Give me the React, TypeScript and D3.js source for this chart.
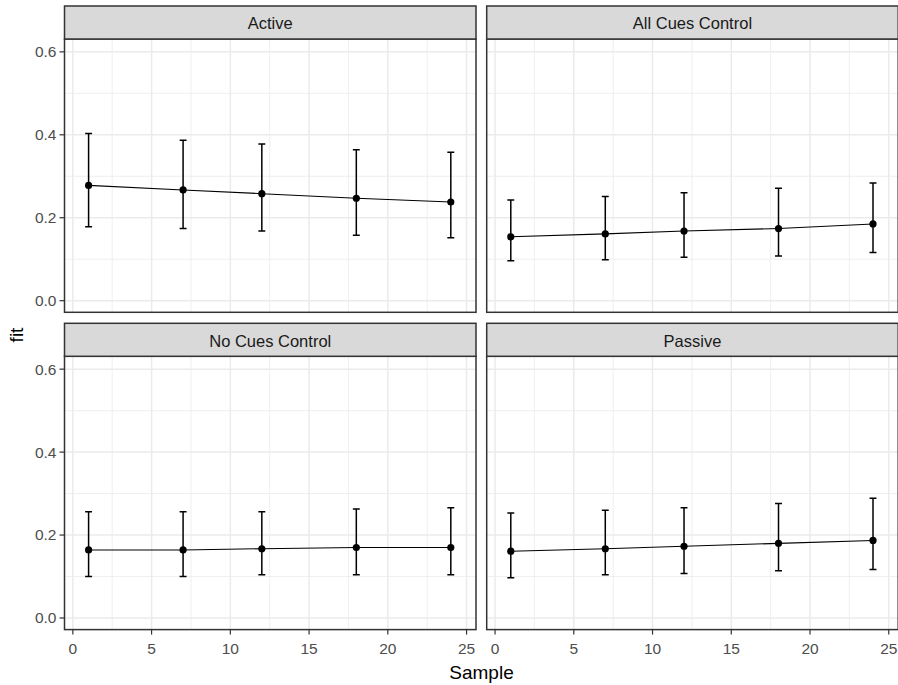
import React from 'react';
import * as d3 from 'd3';

// sample times and facet names
const samples = [1, 7, 12, 18, 24];
const conditions = ['Active', 'All Cues Control', 'No Cues Control', 'Passive'];

// fitted values with lower / upper confidence limits
const fitActive = [0.278, 0.267, 0.258, 0.247, 0.238];
const lowActive = [0.178, 0.174, 0.168, 0.158, 0.152];
const highActive = [0.403, 0.387, 0.378, 0.364, 0.358];

const fitAllCues = [0.154, 0.161, 0.168, 0.174, 0.185];
const lowAllCues = [0.096, 0.099, 0.105, 0.108, 0.116];
const highAllCues = [0.243, 0.251, 0.260, 0.271, 0.284];

const fitNoCues = [0.164, 0.164, 0.167, 0.170, 0.170];
const lowNoCues = [0.100, 0.100, 0.104, 0.104, 0.104];
const highNoCues = [0.256, 0.256, 0.256, 0.263, 0.266];

const fitPassive = [0.161, 0.167, 0.173, 0.180, 0.187];
const lowPassive = [0.097, 0.104, 0.107, 0.114, 0.117];
const highPassive = [0.253, 0.260, 0.266, 0.276, 0.289];

const xTicks = [0, 5, 10, 15, 20, 25];
const xMinor = [2.5, 7.5, 12.5, 17.5, 22.5];
const yTicks = [0, 0.2, 0.4, 0.6];
const yMinor = [0.1, 0.3, 0.5];

const series = [
  { fit: fitActive, low: lowActive, high: highActive },
  { fit: fitAllCues, low: lowAllCues, high: highAllCues },
  { fit: fitNoCues, low: lowNoCues, high: highNoCues },
  { fit: fitPassive, low: lowPassive, high: highPassive },
];

const W = 898;
const H = 685;
const panelLefts = [64.5, 486.7];
const panelW = 411.5;
const stripTops = [6, 323.3];
const stripH = 33;
const panelH = 273.3;
const tickFont = 15.5;
const stripFont = 16.5;
const capHalf = 0.22;

const font = 'Liberation Sans, Arial, sans-serif';

function Panel({ idx }: { idx: number }) {
  const col = idx % 2;
  const row = Math.floor(idx / 2);
  const left = panelLefts[col];
  const stripTop = stripTops[row];
  const top = stripTop + stripH;
  const bottom = top + panelH;
  const x = d3.scaleLinear().domain([-0.53, 25.6]).range([left, left + panelW]);
  const y = d3.scaleLinear().domain([-0.028, 0.631]).range([bottom, top]);
  const s = series[idx];
  const pts = samples.map((v, i) => ({ x: v, y: s.fit[i], lo: s.low[i], hi: s.high[i] }));
  const line = d3.line<{ x: number; y: number }>().x(d => x(d.x)).y(d => y(d.y));
  const showY = col === 0;
  const showX = row === 1;

  return (
    <g>
      <clipPath id={`clip${idx}`}>
        <rect x={left} y={top} width={panelW} height={panelH} />
      </clipPath>
      <rect x={left} y={top} width={panelW} height={panelH} fill="#fff" />
      <g clipPath={`url(#clip${idx})`}>
        {yMinor.map(t => (
          <line key={'ym' + t} x1={left} x2={left + panelW} y1={y(t)} y2={y(t)} stroke="#ebebeb" strokeWidth={0.8} />
        ))}
        {xMinor.map(t => (
          <line key={'xm' + t} x1={x(t)} x2={x(t)} y1={top} y2={bottom} stroke="#ebebeb" strokeWidth={0.8} />
        ))}
        {yTicks.map(t => (
          <line key={'y' + t} x1={left} x2={left + panelW} y1={y(t)} y2={y(t)} stroke="#ebebeb" strokeWidth={1.5} />
        ))}
        {xTicks.map(t => (
          <line key={'x' + t} x1={x(t)} x2={x(t)} y1={top} y2={bottom} stroke="#ebebeb" strokeWidth={1.5} />
        ))}
        <path d={line(pts) || ''} fill="none" stroke="#000" strokeWidth={1.1} />
        {pts.map(p => (
          <g key={'e' + p.x} stroke="#000" strokeWidth={1.5}>
            <line x1={x(p.x)} x2={x(p.x)} y1={y(p.lo)} y2={y(p.hi)} />
            <line x1={x(p.x - capHalf)} x2={x(p.x + capHalf)} y1={y(p.lo)} y2={y(p.lo)} />
            <line x1={x(p.x - capHalf)} x2={x(p.x + capHalf)} y1={y(p.hi)} y2={y(p.hi)} />
          </g>
        ))}
        {pts.map(p => (
          <circle key={'p' + p.x} cx={x(p.x)} cy={y(p.y)} r={3.6} fill="#000" />
        ))}
      </g>
      <rect x={left} y={top} width={panelW} height={panelH} fill="none" stroke="#333" strokeWidth={1.5} />
      <rect x={left} y={stripTop} width={panelW} height={stripH} fill="#d9d9d9" stroke="#333" strokeWidth={1.5} />
      <text x={left + panelW / 2} y={stripTop + stripH / 2 + 1} dy="0.35em" textAnchor="middle" fontSize={stripFont} fill="#1a1a1a" fontFamily={font}>
        {conditions[idx]}
      </text>
      {showY && yTicks.map(t => (
        <g key={'yt' + t}>
          <line x1={left - 5} x2={left} y1={y(t)} y2={y(t)} stroke="#333" strokeWidth={1.2} />
          <text x={left - 8} y={y(t)} dy="0.35em" textAnchor="end" fontSize={tickFont} fill="#4d4d4d" fontFamily={font}>
            {d3.format('.1f')(t)}
          </text>
        </g>
      ))}
      {showX && xTicks.map(t => (
        <g key={'xt' + t}>
          <line x1={x(t)} x2={x(t)} y1={bottom} y2={bottom + 5} stroke="#333" strokeWidth={1.2} />
          <text x={x(t)} y={bottom + 24} textAnchor="middle" fontSize={tickFont} fill="#4d4d4d" fontFamily={font}>
            {t}
          </text>
        </g>
      ))}
    </g>
  );
}

export default function App() {
  return (
    <svg width={W} height={H} style={{ position: 'absolute', left: 0, top: 0, background: '#fff' }}>
      <rect width={W} height={H} fill="#fff" />
      {conditions.map((c, i) => <Panel key={c} idx={i} />)}
      <text x={481.5} y={679} textAnchor="middle" fontSize={19} fill="#000" fontFamily={font}>Sample</text>
      <text transform="translate(23,335) rotate(-90)" textAnchor="middle" fontSize={19} fill="#000" fontFamily={font}>fit</text>
    </svg>
  );
}
